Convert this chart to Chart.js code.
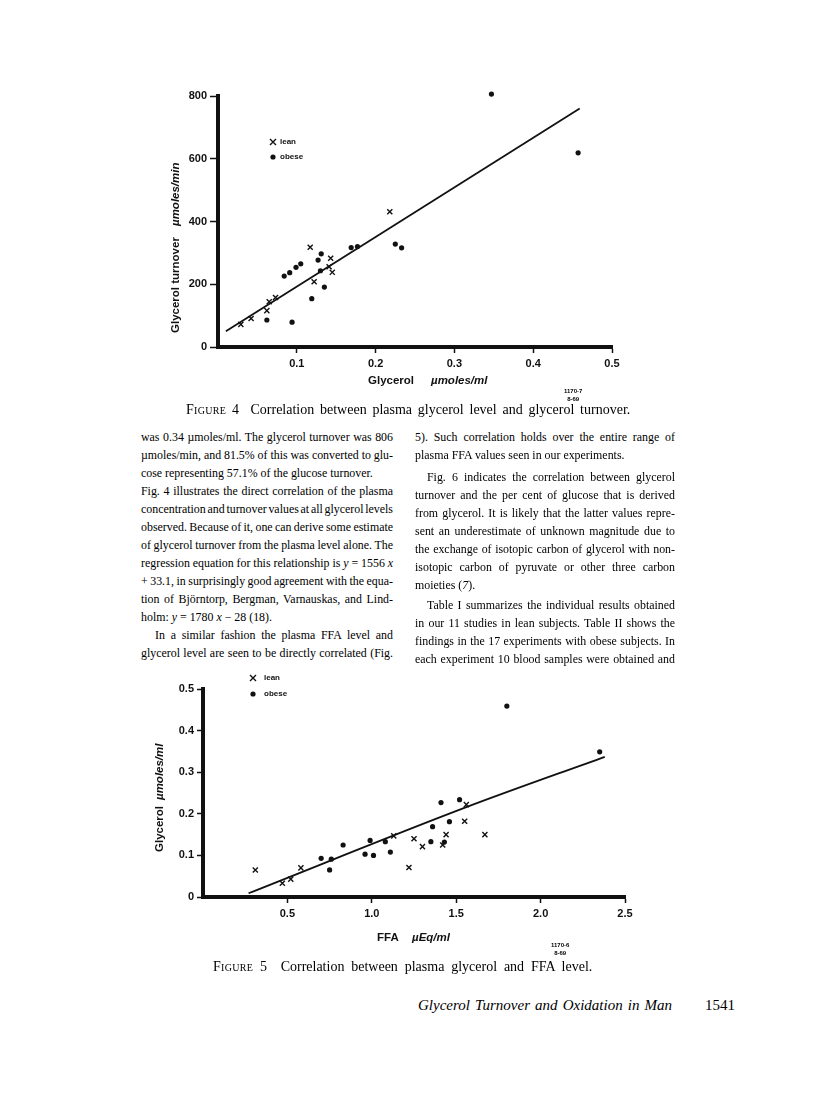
<!DOCTYPE html>
<html>
<head>
<meta charset="utf-8">
<script src="https://cdn.jsdelivr.net/npm/chart.js@4.4.1/dist/chart.umd.min.js"></script>
<style>
    body { margin: 0; background: #fff; }
    #page { position: relative; width: 816px; height: 1100px; overflow: hidden; color: #000;
            font-family: "Liberation Serif", "DejaVu Serif", serif; }
    canvas { position: absolute; left: 0; }
    .ln { position: absolute; white-space: nowrap; font-size: 11.9px; line-height: 14px; }
    .cap { position: absolute; white-space: nowrap; font-size: 14px; line-height: 14px; }
    .sc { font-variant: small-caps; letter-spacing: 0.3px; }
    .fid { position: absolute; font-family: "Liberation Sans", sans-serif; font-weight: bold;
           font-size: 6px; line-height: 8px; text-align: center; }
    .foot { position: absolute; font-size: 15px; line-height: 18px; white-space: nowrap; }
</style>
</head>
<body>
<div id="page">
    <canvas id="fig4" width="816" height="420" style="top:0"></canvas>
    <canvas id="fig5" width="816" height="300" style="top:660px"></canvas>

    <div class="fid" style="left:564px;top:387px">1170-7<br>8-69</div>
    <div class="cap j" data-w="442" style="left:186px;top:403px"><span class="sc">Figure</span> 4&nbsp; Correlation between plasma glycerol level and glycerol turnover.</div>

    <!-- 左カラム -->
    <div class="ln j" data-w="252" style="left:141px;top:430px">was 0.34 µmoles/ml. The glycerol turnover was 806</div>
    <div class="ln j" data-w="252" style="left:141px;top:448px">µmoles/min, and 81.5% of this was converted to glu-</div>
    <div class="ln" style="left:141px;top:466px">cose representing 57.1% of the glucose turnover.</div>
    <div class="ln j" data-w="252" style="left:141px;top:484px">Fig. 4 illustrates the direct correlation of the plasma</div>
    <div class="ln j" data-w="252" style="left:141px;top:502px">concentration and turnover values at all glycerol levels</div>
    <div class="ln j" data-w="252" style="left:141px;top:520px">observed. Because of it, one can derive some estimate</div>
    <div class="ln j" data-w="252" style="left:141px;top:538px">of glycerol turnover from the plasma level alone. The</div>
    <div class="ln j" data-w="252" style="left:141px;top:556px">regression equation for this relationship is <i>y</i> = 1556 <i>x</i></div>
    <div class="ln j" data-w="252" style="left:141px;top:574px">+ 33.1, in surprisingly good agreement with the equa-</div>
    <div class="ln j" data-w="252" style="left:141px;top:592px">tion of Björntorp, Bergman, Varnauskas, and Lind-</div>
    <div class="ln" style="left:141px;top:610px">holm: <i>y</i> = 1780 <i>x</i> − 28 (18).</div>
    <div class="ln j" data-w="238" style="left:155px;top:628px">In a similar fashion the plasma FFA level and</div>
    <div class="ln j" data-w="252" style="left:141px;top:646px">glycerol level are seen to be directly correlated (Fig.</div>

    <!-- 右カラム -->
    <div class="ln j" data-w="260" style="left:415px;top:430px">5). Such correlation holds over the entire range of</div>
    <div class="ln" style="left:415px;top:448px">plasma FFA values seen in our experiments.</div>
    <div class="ln j" data-w="248" style="left:427px;top:470px">Fig. 6 indicates the correlation between glycerol</div>
    <div class="ln j" data-w="260" style="left:415px;top:488px">turnover and the per cent of glucose that is derived</div>
    <div class="ln j" data-w="260" style="left:415px;top:506px">from glycerol. It is likely that the latter values repre-</div>
    <div class="ln j" data-w="260" style="left:415px;top:524px">sent an underestimate of unknown magnitude due to</div>
    <div class="ln j" data-w="260" style="left:415px;top:542px">the exchange of isotopic carbon of glycerol with non-</div>
    <div class="ln j" data-w="260" style="left:415px;top:560px">isotopic carbon of pyruvate or other three carbon</div>
    <div class="ln" style="left:415px;top:578px">moieties (<i>7</i>).</div>
    <div class="ln j" data-w="248" style="left:427px;top:598px">Table I summarizes the individual results obtained</div>
    <div class="ln j" data-w="260" style="left:415px;top:616px">in our 11 studies in lean subjects. Table II shows the</div>
    <div class="ln j" data-w="260" style="left:415px;top:634px">findings in the 17 experiments with obese subjects. In</div>
    <div class="ln j" data-w="260" style="left:415px;top:652px">each experiment 10 blood samples were obtained and</div>

    <div class="fid" style="left:551px;top:941px">1170-6<br>8-69</div>
    <div class="cap j" data-w="376" style="left:213px;top:960px"><span class="sc">Figure</span> 5&nbsp; Correlation between plasma glycerol and FFA level.</div>

    <div class="foot j" data-w="254" style="left:418px;top:996px"><i>Glycerol Turnover and Oxidation in Man</i></div>
    <div class="foot" style="left:705px;top:996px">1541</div>
</div>

<script>
// Figure 4: 血漿グリセロール (µmoles/ml) vs グリセロール回転 (µmoles/min)
const fig4LeanGlycerol = [0.029, 0.042, 0.062, 0.065, 0.073, 0.117, 0.122, 0.141, 0.143, 0.145, 0.218];
const fig4LeanTurnover = [72, 91, 116, 144, 158, 318, 208, 256, 283, 238, 431];
const fig4ObeseGlycerol = [0.062, 0.094, 0.084, 0.091, 0.099, 0.105, 0.119, 0.127, 0.131, 0.130, 0.135, 0.169, 0.177, 0.225, 0.233, 0.347, 0.457];
const fig4ObeseTurnover = [86, 79, 226, 237, 254, 265, 154, 277, 297, 243, 191, 317, 320, 328, 316, 806, 619];
const fig4LineGlycerol = [0.010, 0.459];
const fig4LineTurnover = [50, 760];
const fig4XTicks = [0.1, 0.2, 0.3, 0.4, 0.5];
const fig4YTicks = [0, 200, 400, 600, 800];

// Figure 5: FFA (µEq/ml) vs 血漿グリセロール (µmoles/ml)
const fig5LeanFFA = [0.31, 0.47, 0.52, 0.58, 1.13, 1.22, 1.25, 1.30, 1.42, 1.44, 1.56, 1.55, 1.67];
const fig5LeanGlycerol = [0.065, 0.033, 0.043, 0.070, 0.147, 0.071, 0.140, 0.121, 0.125, 0.150, 0.222, 0.182, 0.150];
const fig5ObeseFFA = [0.70, 0.76, 0.75, 0.83, 0.96, 0.99, 1.01, 1.08, 1.11, 1.36, 1.35, 1.41, 1.43, 1.46, 1.52, 1.80, 2.35];
const fig5ObeseGlycerol = [0.093, 0.091, 0.065, 0.125, 0.103, 0.136, 0.100, 0.133, 0.108, 0.169, 0.133, 0.227, 0.132, 0.181, 0.234, 0.459, 0.349];
const fig5LineFFA = [0.27, 1.56, 2.38];
const fig5LineGlycerol = [0.009, 0.216, 0.337];
const fig5XTicks = [0.5, 1.0, 1.5, 2.0, 2.5];
const fig5YTicks = [0, 0.1, 0.2, 0.3, 0.4, 0.5];

const INK = '#111';
const TICK_FONT = { family: '"Liberation Sans", Arial, sans-serif', size: 11, weight: 'bold' };

const toPoints = (xs, ys) => xs.map((x, i) => ({ x, y: ys[i] }));

// 凡例とラベル（混在フォント）を描くプラグイン
const paperText = {
    id: 'paperText',
    afterDraw(chart, args, opts) {
        const ctx = chart.ctx;
        ctx.save();
        ctx.fillStyle = INK;
        ctx.strokeStyle = INK;
        (opts.legend || []).forEach(item => {
            ctx.beginPath();
            if (item.mark === 'cross') {
                const r = 3;
                ctx.lineWidth = 1.4;
                ctx.moveTo(item.x - r, item.y - r); ctx.lineTo(item.x + r, item.y + r);
                ctx.moveTo(item.x + r, item.y - r); ctx.lineTo(item.x - r, item.y + r);
                ctx.stroke();
            } else {
                ctx.arc(item.x, item.y, 2.6, 0, Math.PI * 2);
                ctx.fill();
            }
            ctx.font = 'bold 8px "Liberation Sans", Arial, sans-serif';
            ctx.textBaseline = 'middle';
            ctx.textAlign = 'left';
            ctx.fillText(item.label, item.tx, item.y);
        });
        (opts.titles || []).forEach(t => {
            ctx.save();
            ctx.translate(t.x, t.y);
            if (t.rot) ctx.rotate(t.rot);
            ctx.font = t.font;
            ctx.textBaseline = 'middle';
            ctx.textAlign = 'left';
            ctx.fillText(t.text, 0, 0);
            ctx.restore();
        });
        ctx.restore();
    }
};

function makeChart(id, cfg) {
    const ctx = document.getElementById(id).getContext('2d');
    return new Chart(ctx, {
        type: 'scatter',
        data: {
            datasets: [
                {
                    label: 'lean',
                    data: toPoints(cfg.leanX, cfg.leanY),
                    pointStyle: 'crossRot',
                    pointRadius: 3.6,
                    borderWidth: 1.4,
                    borderColor: INK,
                    backgroundColor: INK,
                    clip: false
                },
                {
                    label: 'obese',
                    data: toPoints(cfg.obeseX, cfg.obeseY),
                    pointStyle: 'circle',
                    pointRadius: 2.6,
                    borderWidth: 0,
                    backgroundColor: INK,
                    clip: false
                },
                {
                    type: 'line',
                    label: 'regression',
                    data: toPoints(cfg.lineX, cfg.lineY),
                    borderColor: INK,
                    borderWidth: 1.8,
                    pointRadius: 0,
                    cubicInterpolationMode: 'monotone',
                    fill: false
                }
            ]
        },
        options: {
            responsive: false,
            animation: false,
            devicePixelRatio: 1,
            layout: { padding: cfg.padding },
            plugins: {
                legend: { display: false },
                tooltip: { enabled: false },
                paperText: { legend: cfg.legend, titles: cfg.titles }
            },
            scales: {
                x: {
                    type: 'linear',
                    min: 0,
                    max: cfg.xMax,
                    afterBuildTicks: s => { s.ticks = cfg.xTicks.map(v => ({ value: v })); },
                    afterFit: s => { s.height = 40; },
                    grid: { display: true, drawOnChartArea: false, drawTicks: true, tickLength: 6, tickWidth: 1.5, tickColor: INK },
                    border: { display: true, width: 4, color: INK },
                    ticks: { color: INK, font: TICK_FONT, padding: 4, maxRotation: 0, callback: v => v.toFixed(1) }
                },
                y: {
                    type: 'linear',
                    min: 0,
                    max: cfg.yMax,
                    afterBuildTicks: s => { s.ticks = cfg.yTicks.map(v => ({ value: v })); },
                    afterFit: s => { s.width = 60; },
                    grid: { display: true, drawOnChartArea: false, drawTicks: true, tickLength: cfg.yTickLen, tickWidth: 1.5, tickColor: INK },
                    border: { display: true, width: 4, color: INK },
                    ticks: { color: INK, font: TICK_FONT, padding: 3, callback: cfg.yFmt }
                }
            }
        },
        plugins: [paperText]
    });
}

makeChart('fig4', {
    leanX: fig4LeanGlycerol, leanY: fig4LeanTurnover,
    obeseX: fig4ObeseGlycerol, obeseY: fig4ObeseTurnover,
    lineX: fig4LineGlycerol, lineY: fig4LineTurnover,
    xTicks: fig4XTicks, yTicks: fig4YTicks,
    xMax: 0.5, yMax: 800, yTickLen: 8,
    yFmt: v => String(v),
    padding: { left: 158, right: 204, top: 96, bottom: 33 },
    legend: [
        { mark: 'cross', label: 'lean', x: 273, y: 142, tx: 280 },
        { mark: 'dot', label: 'obese', x: 273, y: 157, tx: 280 }
    ],
    titles: [
        { text: 'Glycerol turnover', font: 'bold 11.5px "Liberation Sans", Arial, sans-serif', x: 176, y: 333, rot: -Math.PI / 2 },
        { text: 'µmoles/min', font: 'italic bold 11.5px "Liberation Sans", Arial, sans-serif', x: 176, y: 226, rot: -Math.PI / 2 },
        { text: 'Glycerol', font: 'bold 11.5px "Liberation Sans", Arial, sans-serif', x: 368, y: 381 },
        { text: 'µmoles/ml', font: 'italic bold 11.5px "Liberation Sans", Arial, sans-serif', x: 431, y: 381 }
    ]
});

makeChart('fig5', {
    leanX: fig5LeanFFA, leanY: fig5LeanGlycerol,
    obeseX: fig5ObeseFFA, obeseY: fig5ObeseGlycerol,
    lineX: fig5LineFFA, lineY: fig5LineGlycerol,
    xTicks: fig5XTicks, yTicks: fig5YTicks,
    xMax: 2.5, yMax: 0.5, yTickLen: 6,
    yFmt: v => (v === 0 ? '0' : v.toFixed(1)),
    padding: { left: 143, right: 191, top: 29, bottom: 23 },
    legend: [
        { mark: 'cross', label: 'lean', x: 253, y: 18, tx: 264 },
        { mark: 'dot', label: 'obese', x: 253, y: 34, tx: 264 }
    ],
    titles: [
        { text: 'Glycerol', font: 'bold 11.5px "Liberation Sans", Arial, sans-serif', x: 160, y: 192, rot: -Math.PI / 2 },
        { text: 'µmoles/ml', font: 'italic bold 11.5px "Liberation Sans", Arial, sans-serif', x: 160, y: 140, rot: -Math.PI / 2 },
        { text: 'FFA', font: 'bold 11.5px "Liberation Sans", Arial, sans-serif', x: 377, y: 278 },
        { text: 'µEq/ml', font: 'italic bold 11.5px "Liberation Sans", Arial, sans-serif', x: 412, y: 278 }
    ]
});

// 行末揃え: 語間を調整して各行を指定幅に合わせる
document.querySelectorAll('.j').forEach(el => {
    const target = parseFloat(el.dataset.w);
    const natural = el.getBoundingClientRect().width;
    const spaces = (el.textContent.match(/ /g) || []).length;
    if (spaces) el.style.wordSpacing = ((target - natural) / spaces) + 'px';
});
</script>
</body>
</html>
